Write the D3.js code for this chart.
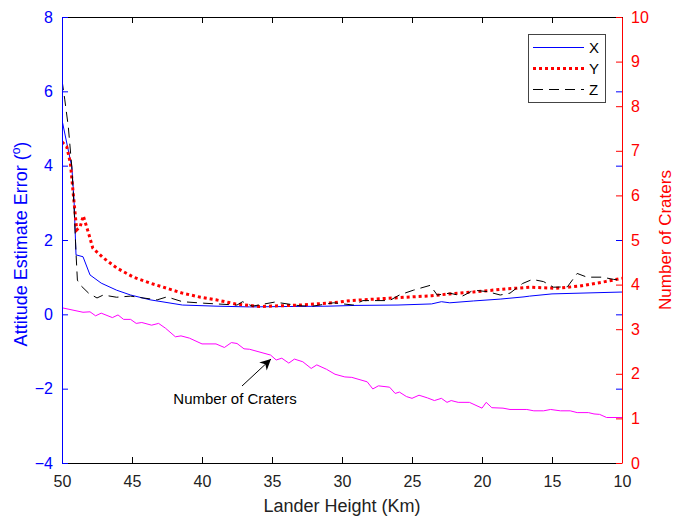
<!DOCTYPE html>
<html>
<head>
<meta charset="utf-8">
<script src="https://cdn.jsdelivr.net/npm/d3@7"></script>
<style>
  body { margin: 0; background: #fff; }
  text { font-family: "Liberation Sans", Arial, sans-serif; }
</style>
</head>
<body>
<script>
// attitude error (deg), per lander height (km)
const heightsX = [50, 49.66, 49.3, 49.14, 49.0, 48.5, 48.0, 47.2, 46.1, 45.1, 43.7, 41.4, 39, 36.6, 34, 31, 29, 26, 23.6, 22.9, 22.3, 20.6, 18.7, 17, 16.6, 15, 13, 11, 10];
const errX = [5.23, 4.61, 3.97, 3.07, 1.6, 1.55, 1.06, 0.84, 0.65, 0.52, 0.39, 0.25, 0.22, 0.2, 0.21, 0.22, 0.24, 0.25, 0.28, 0.34, 0.31, 0.36, 0.41, 0.47, 0.49, 0.55, 0.57, 0.59, 0.6];

const heightsY = [50, 49.66, 49.4, 49.2, 48.95, 48.7, 48.48, 48.1, 47.8, 47.05, 46.1, 44.9, 43.7, 41.4, 40.1, 39, 37.6, 35.9, 33, 30.7, 29.4, 25.9, 23.6, 22.3, 20.6, 18.7, 16.6, 14.8, 13, 11.2, 10];
const errY = [4.64, 4.51, 4.07, 3.26, 2.27, 2.36, 2.65, 2.18, 1.78, 1.52, 1.25, 1.0, 0.84, 0.57, 0.46, 0.39, 0.28, 0.21, 0.25, 0.31, 0.37, 0.45, 0.5, 0.55, 0.6, 0.67, 0.73, 0.7, 0.76, 0.88, 0.97];

const heightsZ = [50, 49.8, 49.55, 49.3, 49.14, 49.0, 48.9, 48.7, 48.1, 47.5, 47.05, 46.1, 45.1, 44.2, 43.2, 42.5, 41.4, 39.9, 37.5, 37.1, 36.4, 34.8, 33, 32.1, 30.6, 29.2, 28.5, 26.6, 25.9, 24.9, 23.7, 23.2, 22.3, 21.4, 20.6, 19.6, 18.7, 18, 17.1, 16.4, 15.6, 14.9, 13.9, 13.2, 12.5, 11.4, 10.6, 10];
const errZ = [6.3, 5.77, 5.05, 3.97, 2.9, 1.65, 0.92, 0.79, 0.57, 0.44, 0.52, 0.46, 0.49, 0.44, 0.39, 0.47, 0.34, 0.3, 0.25, 0.34, 0.22, 0.33, 0.23, 0.22, 0.31, 0.25, 0.37, 0.37, 0.52, 0.65, 0.78, 0.52, 0.57, 0.49, 0.65, 0.61, 0.52, 0.57, 0.83, 0.94, 0.88, 0.73, 0.74, 1.1, 1.0, 1.0, 0.94, 0.92];

// number of craters (right axis)
const heightsC = [50.0, 48.5, 48.0, 47.6, 47.2, 46.4, 46.0, 45.6, 45.1, 44.7, 44.3, 43.6, 43.1, 42.6, 41.9, 41.5, 40.9, 40.0, 39.0, 38.4, 37.9, 37.5, 37.0, 36.6, 35.1, 34.7, 34.3, 33.8, 33.4, 32.8, 32.2, 31.8, 31.1, 30.5, 29.8, 29.3, 28.2, 27.8, 27.4, 26.6, 26.2, 25.9, 25.4, 25.0, 24.5, 23.9, 23.4, 22.9, 22.5, 22.2, 21.7, 20.9, 20.0, 19.7, 19.3, 18.5, 18.0, 16.8, 16.3, 15.6, 15.1, 14.4, 13.7, 13.2, 12.4, 12.0, 11.6, 11.1, 10.0];
const craters = [3.48, 3.38, 3.39, 3.30, 3.36, 3.26, 3.32, 3.22, 3.22, 3.13, 3.15, 3.09, 3.13, 3.02, 2.83, 2.85, 2.80, 2.67, 2.67, 2.59, 2.70, 2.68, 2.56, 2.55, 2.42, 2.31, 2.35, 2.24, 2.33, 2.27, 2.12, 2.20, 2.10, 1.99, 1.93, 1.92, 1.82, 1.66, 1.73, 1.70, 1.56, 1.59, 1.49, 1.45, 1.52, 1.46, 1.40, 1.45, 1.36, 1.40, 1.36, 1.36, 1.23, 1.36, 1.24, 1.23, 1.20, 1.20, 1.17, 1.17, 1.20, 1.17, 1.17, 1.13, 1.13, 1.10, 1.09, 1.02, 1.02];

const xTicks = [50, 45, 40, 35, 30, 25, 20, 15, 10];
const leftTicks = [-4, -2, 0, 2, 4, 6, 8];
const rightTicks = [0, 1, 2, 3, 4, 5, 6, 7, 8, 9, 10];
const legendNames = ['X', 'Y', 'Z'];

const W = 675, H = 517;
const L = 62, R = 622, T = 17, B = 463;
const blue = '#0000ff', red = '#ff0000', magenta = '#ff00ff';

let svg = d3.select('body').append('svg')
  .attr('width', W)
  .attr('height', H);

let x = d3.scaleLinear().domain([50, 10]).range([L, R]);
let yL = d3.scaleLinear().domain([-4, 8]).range([B, T]);
let yR = d3.scaleLinear().domain([0, 10]).range([B, T]);

svg.append('clipPath').attr('id', 'plot')
  .append('rect').attr('x', L).attr('y', T).attr('width', R - L).attr('height', B - T);

let plot = svg.append('g').attr('clip-path', 'url(#plot)');

function pairs(hs, vs) { return hs.map((h, i) => [h, vs[i]]); }

let lineL = d3.line().x(d => x(d[0])).y(d => yL(d[1]));
let lineR = d3.line().x(d => x(d[0])).y(d => yR(d[1]));

// craters (right axis)
plot.append('path')
  .attr('d', lineR(pairs(heightsC, craters)))
  .attr('fill', 'none').attr('stroke', magenta).attr('stroke-width', 1);

// X
plot.append('path')
  .attr('d', lineL(pairs(heightsX, errX)))
  .attr('fill', 'none').attr('stroke', blue).attr('stroke-width', 1);

// Y
plot.append('path')
  .attr('d', lineL(pairs(heightsY, errY)))
  .attr('fill', 'none').attr('stroke', red).attr('stroke-width', 3)
  .attr('stroke-dasharray', '3,3');

// Z
plot.append('path')
  .attr('d', lineL(pairs(heightsZ, errZ)))
  .attr('fill', 'none').attr('stroke', '#000').attr('stroke-width', 1)
  .attr('stroke-dasharray', '10,6');

// frame
svg.append('line').attr('x1', L).attr('x2', R).attr('y1', T + 0.5).attr('y2', T + 0.5).attr('stroke', '#000');
svg.append('line').attr('x1', L).attr('x2', R).attr('y1', B + 0.5).attr('y2', B + 0.5).attr('stroke', '#000');

const tk = 6;

// bottom axis
let xAx = svg.append('g').attr('transform', `translate(0,${B})`)
  .call(d3.axisBottom(x).tickValues(xTicks).tickSizeInner(-tk).tickSizeOuter(0).tickPadding(13));
xAx.select('.domain').remove();
xAx.selectAll('line').attr('stroke', '#000');
xAx.selectAll('text').attr('font-size', 16).attr('fill', '#222')
  .attr('font-family', '"Liberation Sans", Arial, sans-serif');

// top ticks
let xTop = svg.append('g').attr('transform', `translate(0,${T})`)
  .call(d3.axisTop(x).tickValues(xTicks).tickSizeInner(-tk).tickSizeOuter(0).tickFormat(''));
xTop.select('.domain').remove();
xTop.selectAll('line').attr('stroke', '#000');

// left axis
let lAx = svg.append('g').attr('transform', `translate(${L},0)`)
  .call(d3.axisLeft(yL).tickValues(leftTicks).tickSizeInner(-tk).tickSizeOuter(0).tickPadding(9));
lAx.select('.domain').attr('stroke', blue);
lAx.selectAll('line').attr('stroke', blue);
lAx.selectAll('text').attr('font-size', 16).attr('fill', blue)
  .attr('font-family', '"Liberation Sans", Arial, sans-serif');

// right axis
let rAx = svg.append('g').attr('transform', `translate(${R},0)`)
  .call(d3.axisRight(yR).tickValues(rightTicks).tickSizeInner(-tk).tickSizeOuter(0).tickPadding(9));
rAx.select('.domain').attr('stroke', red);
rAx.selectAll('line').attr('stroke', red);
rAx.selectAll('text').attr('font-size', 16).attr('fill', red)
  .attr('font-family', '"Liberation Sans", Arial, sans-serif');

// left-axis ticks repeated on the right side
let lMirror = svg.append('g').attr('transform', `translate(${R},0)`)
  .call(d3.axisRight(yL).tickValues(leftTicks.slice(1, -1)).tickSizeInner(-tk).tickSizeOuter(0).tickFormat(''));
lMirror.select('.domain').remove();
lMirror.selectAll('line').attr('stroke', blue);

// axis labels
svg.append('text')
  .attr('x', (L + R) / 2).attr('y', 512)
  .attr('text-anchor', 'middle').attr('font-size', 18).attr('fill', '#222')
  .text('Lander Height (Km)');

let yl = svg.append('text')
  .attr('transform', `translate(27,${(T + B) / 2 + 4}) rotate(-90)`)
  .attr('text-anchor', 'middle').attr('font-size', 18).attr('fill', blue);
yl.append('tspan').text('Attitude Estimate Error (');
yl.append('tspan').attr('font-size', 12).attr('dy', -7).text('o');
yl.append('tspan').attr('dy', 7).text(')');

svg.append('text')
  .attr('transform', `translate(671,${(T + B) / 2}) rotate(-90)`)
  .attr('text-anchor', 'middle').attr('font-size', 17).attr('fill', red)
  .text('Number of Craters');

// annotation
svg.append('defs').append('marker')
  .attr('id', 'head')
  .attr('viewBox', '0 0 10 10')
  .attr('refX', 10).attr('refY', 5)
  .attr('markerWidth', 15).attr('markerHeight', 11)
  .attr('markerUnits', 'userSpaceOnUse')
  .attr('orient', 'auto')
  .append('path').attr('d', 'M0,0 L10,5 L0,10 L3,5 Z').attr('fill', '#000');

svg.append('line')
  .attr('x1', 242).attr('y1', 386)
  .attr('x2', 271).attr('y2', 359)
  .attr('stroke', '#000').attr('stroke-width', 1)
  .attr('marker-end', 'url(#head)');

svg.append('text')
  .attr('x', 235).attr('y', 404)
  .attr('text-anchor', 'middle').attr('font-size', 15).attr('fill', '#000')
  .text('Number of Craters');

// legend
let leg = svg.append('g');
leg.append('rect')
  .attr('x', 528.5).attr('y', 34.5).attr('width', 77).attr('height', 68)
  .attr('fill', '#fff').attr('stroke', '#444').attr('stroke-width', 1);

const legStyles = [
  { stroke: blue, width: 1, dash: null },
  { stroke: red, width: 3, dash: '3,3' },
  { stroke: '#000', width: 1, dash: '10,6' }
];
legendNames.forEach((name, i) => {
  let yy = 47.5 + i * 21;
  let s = legStyles[i];
  let ln = leg.append('line')
    .attr('x1', 533).attr('x2', 584).attr('y1', yy).attr('y2', yy)
    .attr('stroke', s.stroke).attr('stroke-width', s.width);
  if (s.dash) ln.attr('stroke-dasharray', s.dash);
  leg.append('text')
    .attr('x', 589).attr('y', yy + 5.5)
    .attr('font-size', 15).attr('fill', '#000')
    .text(name);
});
</script>
</body>
</html>
